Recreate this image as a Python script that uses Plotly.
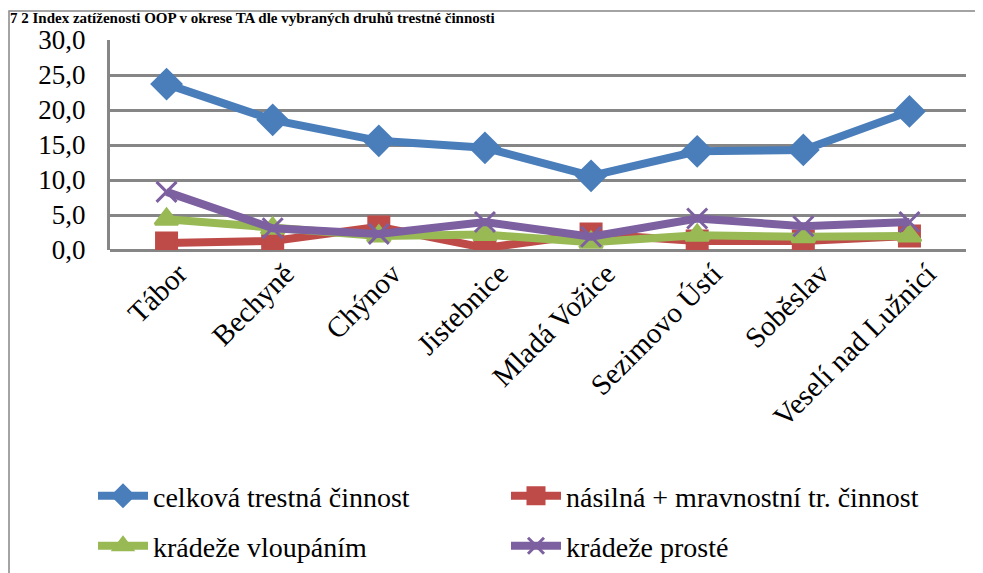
import plotly.graph_objects as go

categories = ["Tábor", "Bechyně", "Chýnov", "Jistebnice", "Mladá Vožice",
              "Sezimovo Ústí", "Soběslav", "Veselí nad Lužnicí"]
celkova = [23.7, 18.6, 15.6, 14.6, 10.6, 14.1, 14.3, 19.8]
nasilna = [1.0, 1.3, 3.3, 0.3, 2.3, 1.3, 1.3, 2.0]
vloupanim = [4.4, 3.1, 2.0, 2.2, 1.1, 2.1, 1.9, 2.0]
proste = [8.3, 3.1, 2.3, 4.0, 1.9, 4.5, 3.4, 4.0]
y_ticks = [0, 5, 10, 15, 20, 25, 30]

series = [
    ("celková trestná činnost", celkova, "#4a7ebb", "diamond", 22, "legend"),
    ("násilná + mravnostní tr. činnost", nasilna, "#be4b48", "square", 20, "legend"),
    ("krádeže vloupáním", vloupanim, "#98b954", "triangle-up", 20, "legend2"),
    ("krádeže prosté", proste, "#7d60a0", "x-thin-open", 20, "legend2"),
]

font_family = "'Liberation Serif', 'Times New Roman', Tinos, 'DejaVu Serif', serif"
fig = go.Figure()
for name, vals, color, sym, size, lg in series:
    fig.add_trace(go.Scatter(
        x=categories, y=vals, name=name, mode="lines+markers",
        line=dict(color=color, width=8),
        marker=dict(symbol=sym, size=size, color=color,
                    line=dict(color=color, width=3)),
        legend=lg,
    ))

# invisible helper trace so that the label axis (xaxis2) is drawn
fig.add_trace(go.Scatter(x=list(range(len(categories))), y=[None] * len(categories),
                         xaxis="x2", yaxis="y", showlegend=False, hoverinfo="skip"))

# page has an 8px body margin; figure pixel = page pixel - 8
W, H = 975, 565
L, R, T, B = 102, 958, 32, 242
pw, ph = R - L, B - T
shift = 15 / (pw / len(categories))

def px(xp):
    return (xp - 8 - L) / pw

def py(yp):
    return (B - (yp - 8)) / ph

legend_common = dict(orientation="h", x=px(93), xanchor="left", yanchor="top",
                     entrywidth=348, entrywidthmode="pixels", itemwidth=50,
                     font=dict(family=font_family, size=28, color="black"),
                     bgcolor="rgba(0,0,0,0)", traceorder="normal")

fig.update_layout(
    width=W, height=H,
    margin=dict(l=L, r=W - R, t=T, b=H - B, autoexpand=False),
    paper_bgcolor="white", plot_bgcolor="white",
    separators=", ",
    font=dict(family=font_family, size=27, color="black"),
    showlegend=True,
    legend=dict(y=py(471), **legend_common),
    legend2=dict(y=py(521), **legend_common),
    xaxis=dict(showgrid=False, showline=False, ticks="", showticklabels=False,
               automargin=False),
    xaxis2=dict(overlaying="x", anchor="y", side="bottom",
                range=[-0.5 - shift, len(categories) - 0.5 - shift],
                tickvals=list(range(len(categories))), ticktext=categories,
                tickangle=-45, showgrid=False, showline=False, zeroline=False,
                ticks="", automargin=False, ticklabelstandoff=0,
                tickfont=dict(size=29)),
    yaxis=dict(range=[0, 30], tickvals=y_ticks, tickformat=".1f",
               automargin=False, ticklabelstandoff=16,
               showgrid=True, gridcolor="#868686", gridwidth=3,
               zeroline=True, zerolinecolor="#868686", zerolinewidth=3,
               showline=True, linecolor="#868686", linewidth=3,
               ticks="", ticklen=0,
               tickfont=dict(size=27)),
    shapes=[
        dict(type="rect", xref="paper", yref="paper",
             x0=px(9), x1=px(1010),
             y0=py(620), y1=py(11),
             line=dict(color="#868686", width=1.5), fillcolor="rgba(0,0,0,0)",
             layer="below"),
    ],
    annotations=[
        dict(text="<b>7 2 Index zatíženosti OOP v okrese TA dle vybraných druhů trestné činnosti</b>",
             xref="paper", yref="paper", x=px(8), xanchor="left",
             y=py(8), yanchor="top", showarrow=False,
             font=dict(size=15, color="black")),
    ],
)

fig.write_html("out.html")
